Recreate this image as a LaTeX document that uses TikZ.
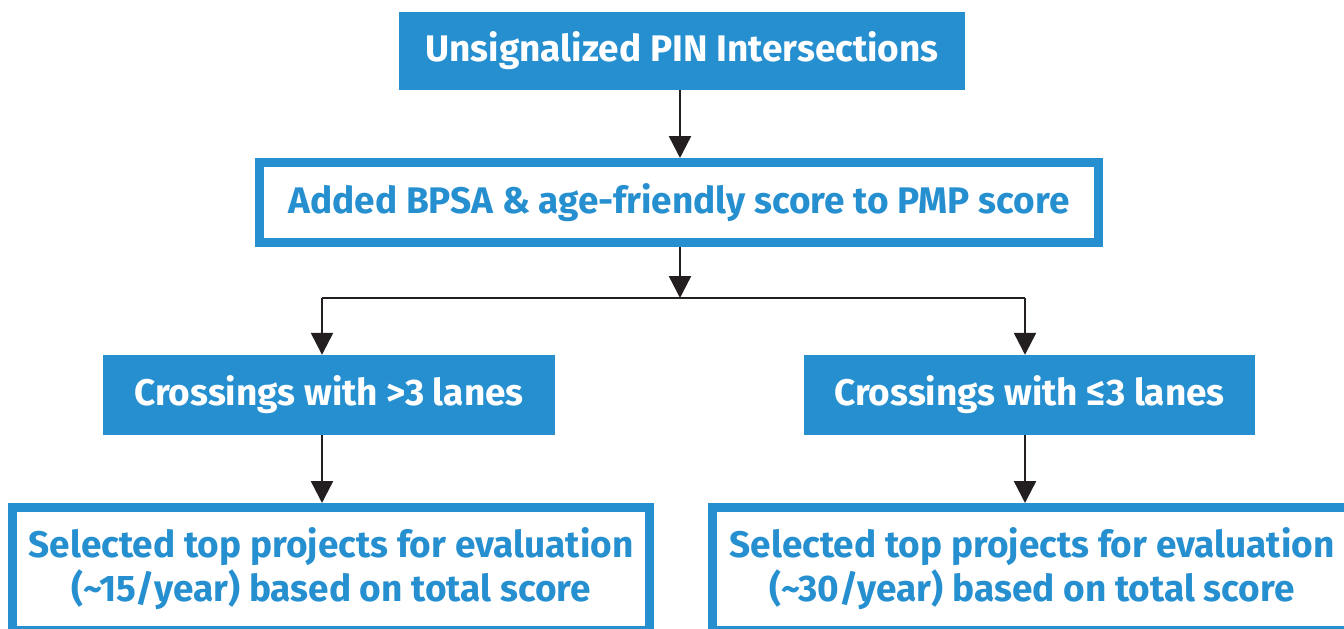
\documentclass[tikz,border=0pt]{standalone}
\usepackage{fontspec}
\setmainfont{Fira Sans}
\usetikzlibrary{arrows.meta}
\definecolor{pblue}{RGB}{38,143,207}
\definecolor{pdark}{RGB}{35,31,32}
\begin{document}
\begin{tikzpicture}[x=1pt,y=-1pt,
  fillbox/.style={fill=pblue,text=white,inner sep=0pt,font=\fontsize{37}{44}\selectfont\bfseries},
  linebox/.style={draw=pblue,line width=9pt,fill=white,text=pblue,inner sep=0pt,align=center,font=\fontsize{37}{44}\selectfont\bfseries},
  arr/.style={draw=pdark,line width=2.4pt,-{Triangle[width=22pt,length=22pt]}},
  plain/.style={draw=pdark,line width=2.4pt}]
\useasboundingbox (0,0) rectangle (1344,629);
\node[fillbox,minimum width=566pt,minimum height=78pt] (n1) at (682,51) {Unsignalized PIN Intersections};
\node[linebox,minimum width=839pt,minimum height=80pt] (n2) at (679,202.5) {Added BPSA \& age-friendly score to PMP score};
\node[fillbox,minimum width=452pt,minimum height=80pt] (n3l) at (329,395) {Crossings with >3 lanes};
\node[fillbox,minimum width=451pt,minimum height=80pt] (n3r) at (1029.5,395) {Crossings with ≤3 lanes};
\node[linebox,minimum width=637pt,minimum height=123pt] (n4l) at (331,569) {Selected top projects for evaluation\\(\textasciitilde15/year) based on total score};
\node[linebox,minimum width=639pt,minimum height=123pt] (n4r) at (1032,569) {Selected top projects for evaluation\\(\textasciitilde30/year) based on total score};
\coordinate (L) at (322,298);
\coordinate (R) at (1025,298);
\draw[arr] (n1.south -| 680,0) -- (n2.north -| 680,0);
\draw[arr] (n2.south -| 680,0) -- (680,298);
\draw[plain] (L) -- (R);
\draw[arr] (L) -- (L |- n3l.north);
\draw[arr] (R) -- (R |- n3r.north);
\draw[arr] (L |- n3l.south) -- (L |- n4l.north);
\draw[arr] (R |- n3r.south) -- (R |- n4r.north);
\end{tikzpicture}
\end{document}
